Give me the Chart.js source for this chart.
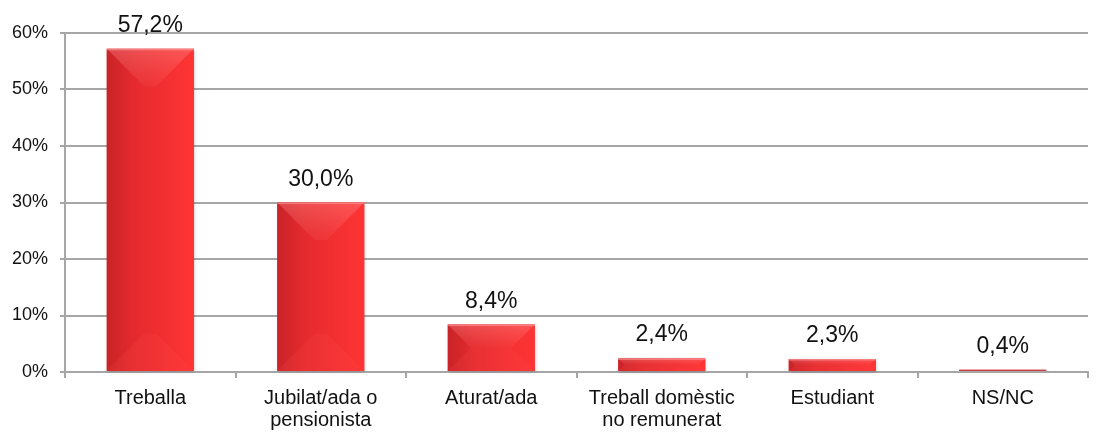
<!DOCTYPE html>
<html>
<head>
<meta charset="utf-8">
<script src="https://cdn.jsdelivr.net/npm/chart.js@4/dist/chart.umd.min.js"></script>
<style>
  html, body { margin: 0; padding: 0; background: #fff; }
  #wrap { width: 1099px; height: 432px; }
</style>
</head>
<body>
<div id="wrap"><canvas id="situacio"></canvas></div>
<script>
const categories = [
  'Treballa',
  ['Jubilat/ada o', 'pensionista'],
  'Aturat/ada',
  ['Treball domèstic', 'no remunerat'],
  'Estudiant',
  'NS/NC'
];
const percentages = [57.2, 30.0, 8.4, 2.4, 2.3, 0.4];
const yTicks = [0, 10, 20, 30, 40, 50, 60];

const fontFamily = '"Liberation Sans", Arial, sans-serif';

function fmt(v) {
  return v.toFixed(1).replace('.', ',') + '%';
}

// bevelled look over each bar, using the element geometry from chart.js
const bevelBars = {
  id: 'bevelBars',
  afterDatasetsDraw(chart) {
    const ctx = chart.ctx;
    const meta = chart.getDatasetMeta(0);
    meta.data.forEach((bar) => {
      const l = bar.x - bar.width / 2;
      const r = bar.x + bar.width / 2;
      const t = bar.y;
      const b = bar.base;
      const h = b - t;
      const w = r - l;
      if (h < 4) {
        ctx.save();
        ctx.fillStyle = '#c94444';
        ctx.fillRect(l, t, w, h);
        ctx.restore();
        return;
      }
      ctx.save();
      const g = ctx.createLinearGradient(l, 0, r, 0);
      g.addColorStop(0, '#c92327');
      g.addColorStop(0.3, '#e42a2e');
      g.addColorStop(1, '#ff3434');
      ctx.shadowColor = 'rgba(0,0,0,0.22)';
      ctx.shadowBlur = 3;
      ctx.shadowOffsetX = 1;
      ctx.shadowOffsetY = 1;
      ctx.fillStyle = g;
      ctx.fillRect(l, t, w, h);
      ctx.shadowColor = 'transparent';

      const d = Math.min(w * 0.43, h / 2);
      // top chamfer
      ctx.beginPath();
      ctx.moveTo(l, t); ctx.lineTo(r, t);
      ctx.lineTo(r - d, t + d); ctx.lineTo(l + d, t + d);
      ctx.closePath();
      const tg = ctx.createLinearGradient(0, t, 0, t + d);
      tg.addColorStop(0, 'rgba(255,150,150,0.35)');
      tg.addColorStop(1, 'rgba(255,120,120,0.10)');
      ctx.fillStyle = tg;
      ctx.fill();
      // bottom chamfer
      ctx.beginPath();
      ctx.moveTo(l, b); ctx.lineTo(r, b);
      ctx.lineTo(r - d, b - d); ctx.lineTo(l + d, b - d);
      ctx.closePath();
      ctx.fillStyle = 'rgba(255,80,80,0.16)';
      ctx.fill();
      // thin light top edge
      ctx.fillStyle = 'rgba(255,170,170,0.5)';
      ctx.fillRect(l, t, w, 1.5);
      ctx.restore();
    });
  }
};

const valueLabels = {
  id: 'valueLabels',
  afterDatasetsDraw(chart) {
    const ctx = chart.ctx;
    const meta = chart.getDatasetMeta(0);
    ctx.save();
    ctx.font = '23px ' + fontFamily;
    ctx.fillStyle = '#111';
    ctx.textAlign = 'center';
    ctx.textBaseline = 'alphabetic';
    meta.data.forEach((bar, i) => {
      ctx.fillText(fmt(percentages[i]), bar.x, bar.y - 17);
    });
    ctx.restore();
  }
};

new Chart(document.getElementById('situacio'), {
  type: 'bar',
  data: {
    labels: categories,
    datasets: [{
      data: percentages,
      backgroundColor: '#ee2b2f',
      borderWidth: 0,
      barPercentage: 0.51,
      categoryPercentage: 1.0
    }]
  },
  options: {
    responsive: true,
    maintainAspectRatio: false,
    animation: false,
    events: [],
    layout: { padding: { top: 33, right: 11, bottom: 0, left: 0 } },
    plugins: {
      legend: { display: false },
      tooltip: { enabled: false }
    },
    scales: {
      x: {
        afterFit(scale) { scale.height = 60; },
        grid: {
          display: true,
          drawOnChartArea: false,
          offset: true,
          color: '#a6a6a6',
          lineWidth: 2,
          tickLength: 6
        },
        border: { color: '#a6a6a6', width: 2 },
        ticks: {
          color: '#111',
          font: { family: fontFamily, size: 20, lineHeight: '22px' },
          padding: 9,
          maxRotation: 0,
          autoSkip: false
        }
      },
      y: {
        min: 0,
        max: 60,
        afterFit(scale) { scale.width = 65; },
        afterBuildTicks(scale) { scale.ticks = yTicks.map(v => ({ value: v })); },
        grid: {
          color: '#a6a6a6',
          lineWidth: 2,
          tickLength: 5
        },
        border: { color: '#a6a6a6', width: 2 },
        ticks: {
          color: '#111',
          font: { family: fontFamily, size: 18 },
          padding: 12,
          callback: v => v + '%'
        }
      }
    }
  },
  plugins: [bevelBars, valueLabels]
});
</script>
</body>
</html>
